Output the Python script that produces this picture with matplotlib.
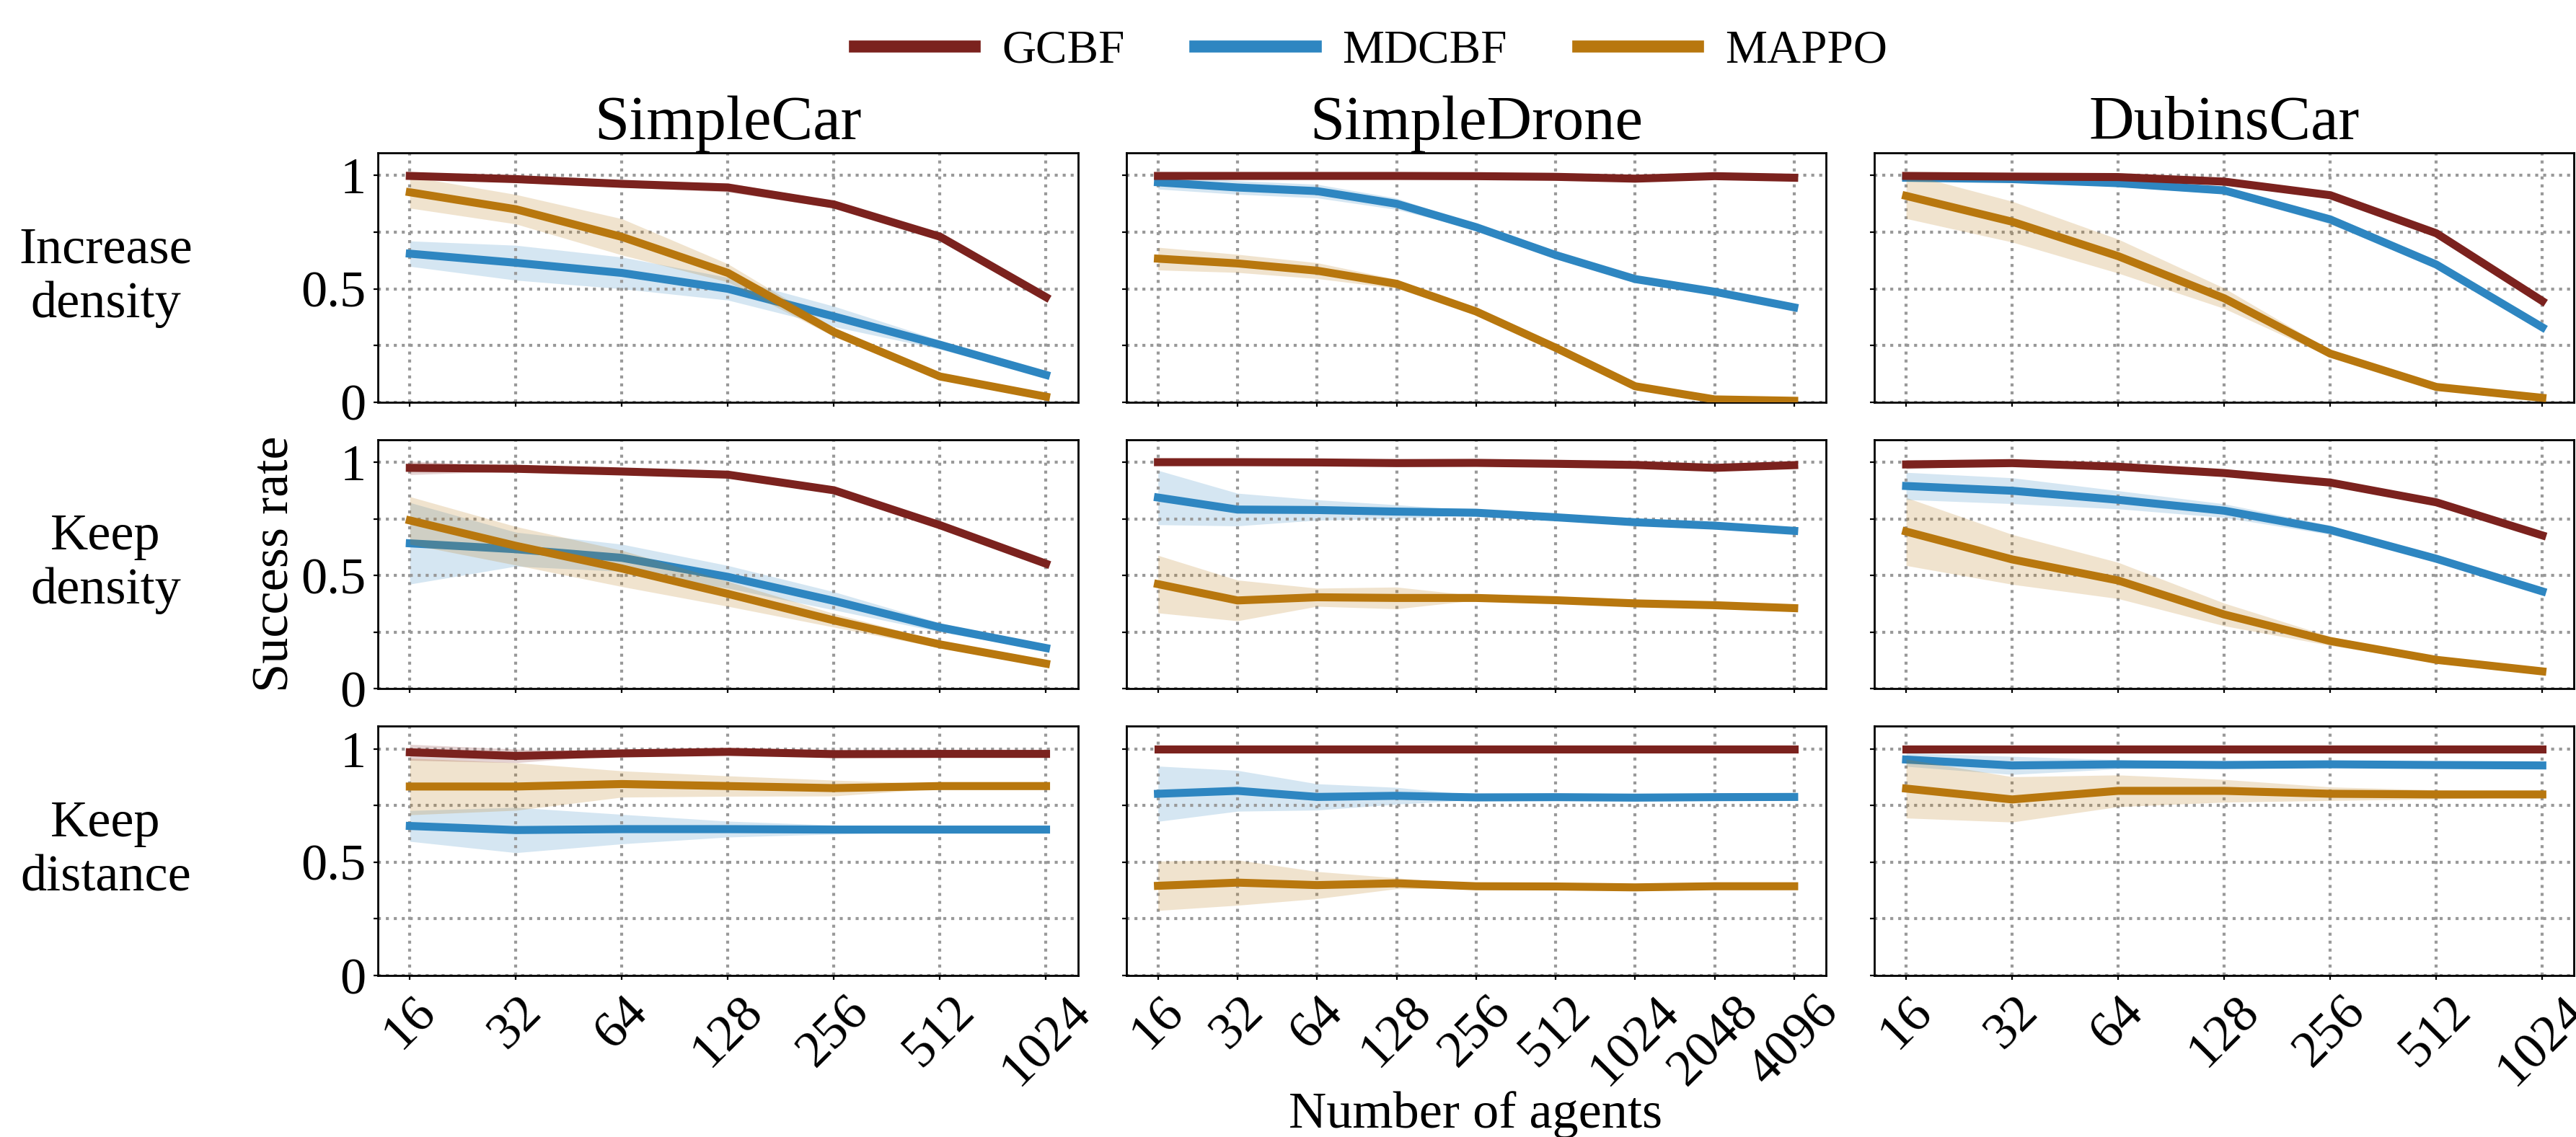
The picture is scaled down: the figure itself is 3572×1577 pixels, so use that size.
import numpy as np
import matplotlib
matplotlib.use('Agg')
import matplotlib.pyplot as plt
from matplotlib.ticker import NullLocator, FixedLocator

plt.rcParams['font.family'] = ['Liberation Serif', 'DejaVu Serif']
plt.rcParams['font.size'] = 26

agents = [16, 32, 64, 128, 256, 512, 1024]
agents_drone = [16, 32, 64, 128, 256, 512, 1024, 2048, 4096]

envs = ['SimpleCar', 'SimpleDrone', 'DubinsCar']
tasks = ['Increase\ndensity', 'Keep\ndensity', 'Keep\ndistance']
methods = ['GCBF', 'MDCBF', 'MAPPO']
colors = ['#7B221E', '#2E86C1', '#B8770E']

# increase density
car_inc_gcbf = [0.998, 0.984, 0.963, 0.947, 0.872, 0.730, 0.463]
car_inc_gcbf_sd = [0.01, 0.015, 0.015, 0.02, 0.015, 0.015, 0.01]
car_inc_mdcbf = [0.655, 0.615, 0.570, 0.500, 0.378, 0.253, 0.120]
car_inc_mdcbf_sd = [0.056, 0.077, 0.07, 0.05, 0.045, 0.02, 0.01]
car_inc_mappo = [0.926, 0.851, 0.729, 0.570, 0.309, 0.113, 0.024]
car_inc_mappo_sd = [0.07, 0.065, 0.08, 0.04, 0.02, 0.01, 0.01]

drone_inc_gcbf = [0.998, 0.998, 0.998, 0.998, 0.997, 0.994, 0.986, 0.997, 0.990]
drone_inc_gcbf_sd = [0.005, 0.005, 0.005, 0.005, 0.005, 0.005, 0.005, 0.005, 0.005]
drone_inc_mdcbf = [0.970, 0.947, 0.931, 0.875, 0.772, 0.649, 0.543, 0.487, 0.418]
drone_inc_mdcbf_sd = [0.03, 0.03, 0.03, 0.025, 0.01, 0.005, 0.005, 0.005, 0.005]
drone_inc_mappo = [0.633, 0.612, 0.580, 0.522, 0.400, 0.240, 0.070, 0.012, 0.006]
drone_inc_mappo_sd = [0.05, 0.04, 0.035, 0.02, 0.01, 0.005, 0.005, 0.003, 0.003]

dubins_inc_gcbf = [0.998, 0.995, 0.993, 0.973, 0.913, 0.745, 0.446]
dubins_inc_gcbf_sd = [0.005, 0.005, 0.005, 0.01, 0.015, 0.015, 0.01]
dubins_inc_mdcbf = [0.990, 0.984, 0.966, 0.934, 0.806, 0.607, 0.330]
dubins_inc_mdcbf_sd = [0.01, 0.01, 0.015, 0.015, 0.02, 0.015, 0.01]
dubins_inc_mappo = [0.910, 0.796, 0.644, 0.458, 0.214, 0.067, 0.019]
dubins_inc_mappo_sd = [0.10, 0.09, 0.075, 0.045, 0.015, 0.005, 0.005]

# keep density
car_den_gcbf = [0.975, 0.971, 0.959, 0.945, 0.876, 0.722, 0.552]
car_den_gcbf_sd = [0.03, 0.01, 0.01, 0.015, 0.01, 0.01, 0.01]
car_den_mdcbf = [0.642, 0.616, 0.578, 0.494, 0.388, 0.271, 0.180]
car_den_mdcbf_sd = [0.18, 0.075, 0.06, 0.05, 0.04, 0.02, 0.01]
car_den_mappo = [0.743, 0.631, 0.531, 0.419, 0.302, 0.196, 0.111]
car_den_mappo_sd = [0.105, 0.085, 0.08, 0.055, 0.03, 0.015, 0.01]

drone_den_gcbf = [1.0, 1.0, 0.999, 0.996, 0.997, 0.993, 0.988, 0.975, 0.987]
drone_den_gcbf_sd = [0.005, 0.005, 0.005, 0.005, 0.005, 0.005, 0.005, 0.01, 0.005]
drone_den_mdcbf = [0.844, 0.791, 0.789, 0.782, 0.777, 0.757, 0.735, 0.720, 0.697]
drone_den_mdcbf_sd = [0.12, 0.072, 0.045, 0.03, 0.01, 0.005, 0.005, 0.005, 0.005]
drone_den_mappo = [0.462, 0.390, 0.404, 0.401, 0.401, 0.391, 0.377, 0.369, 0.356]
drone_den_mappo_sd = [0.127, 0.09, 0.04, 0.048, 0.01, 0.005, 0.005, 0.005, 0.005]

dubins_den_gcbf = [0.990, 0.996, 0.980, 0.952, 0.910, 0.823, 0.677]
dubins_den_gcbf_sd = [0.02, 0.005, 0.005, 0.01, 0.01, 0.015, 0.01]
dubins_den_mdcbf = [0.895, 0.874, 0.834, 0.786, 0.701, 0.574, 0.430]
dubins_den_mdcbf_sd = [0.06, 0.057, 0.04, 0.03, 0.02, 0.01, 0.01]
dubins_den_mappo = [0.694, 0.571, 0.478, 0.328, 0.211, 0.128, 0.077]
dubins_den_mappo_sd = [0.15, 0.11, 0.08, 0.05, 0.02, 0.01, 0.005]

# keep distance
car_dist_gcbf = [0.985, 0.969, 0.980, 0.987, 0.977, 0.978, 0.978]
car_dist_gcbf_sd = [0.035, 0.03, 0.005, 0.005, 0.005, 0.005, 0.005]
car_dist_mdcbf = [0.660, 0.642, 0.646, 0.646, 0.644, 0.644, 0.644]
car_dist_mdcbf_sd = [0.068, 0.1, 0.065, 0.035, 0.02, 0.01, 0.005]
car_dist_mappo = [0.834, 0.834, 0.845, 0.836, 0.827, 0.836, 0.836]
car_dist_mappo_sd = [0.125, 0.105, 0.058, 0.045, 0.035, 0.01, 0.005]

drone_dist_gcbf = [0.999, 0.999, 0.999, 0.999, 0.999, 0.999, 0.999, 0.999, 0.999]
drone_dist_gcbf_sd = [0.005, 0.005, 0.005, 0.005, 0.005, 0.005, 0.005, 0.005, 0.005]
drone_dist_mdcbf = [0.802, 0.815, 0.788, 0.793, 0.786, 0.787, 0.785, 0.787, 0.788]
drone_dist_mdcbf_sd = [0.122, 0.09, 0.058, 0.037, 0.01, 0.005, 0.005, 0.005, 0.005]
drone_dist_mappo = [0.396, 0.410, 0.399, 0.407, 0.394, 0.393, 0.389, 0.394, 0.394]
drone_dist_mappo_sd = [0.109, 0.1, 0.06, 0.024, 0.008, 0.005, 0.005, 0.005, 0.005]

dubins_dist_gcbf = [0.998, 0.998, 0.998, 0.998, 0.998, 0.998, 0.998]
dubins_dist_gcbf_sd = [0.005, 0.005, 0.005, 0.005, 0.005, 0.005, 0.005]
dubins_dist_mdcbf = [0.953, 0.927, 0.932, 0.929, 0.932, 0.929, 0.927]
dubins_dist_mdcbf_sd = [0.03, 0.04, 0.02, 0.01, 0.01, 0.01, 0.01]
dubins_dist_mappo = [0.825, 0.777, 0.815, 0.815, 0.802, 0.799, 0.799]
dubins_dist_mappo_sd = [0.13, 0.10, 0.07, 0.05, 0.03, 0.02, 0.01]

panels = [
    [(car_inc_gcbf, car_inc_gcbf_sd, car_inc_mdcbf, car_inc_mdcbf_sd, car_inc_mappo, car_inc_mappo_sd),
     (drone_inc_gcbf, drone_inc_gcbf_sd, drone_inc_mdcbf, drone_inc_mdcbf_sd, drone_inc_mappo, drone_inc_mappo_sd),
     (dubins_inc_gcbf, dubins_inc_gcbf_sd, dubins_inc_mdcbf, dubins_inc_mdcbf_sd, dubins_inc_mappo, dubins_inc_mappo_sd)],
    [(car_den_gcbf, car_den_gcbf_sd, car_den_mdcbf, car_den_mdcbf_sd, car_den_mappo, car_den_mappo_sd),
     (drone_den_gcbf, drone_den_gcbf_sd, drone_den_mdcbf, drone_den_mdcbf_sd, drone_den_mappo, drone_den_mappo_sd),
     (dubins_den_gcbf, dubins_den_gcbf_sd, dubins_den_mdcbf, dubins_den_mdcbf_sd, dubins_den_mappo, dubins_den_mappo_sd)],
    [(car_dist_gcbf, car_dist_gcbf_sd, car_dist_mdcbf, car_dist_mdcbf_sd, car_dist_mappo, car_dist_mappo_sd),
     (drone_dist_gcbf, drone_dist_gcbf_sd, drone_dist_mdcbf, drone_dist_mdcbf_sd, drone_dist_mappo, drone_dist_mappo_sd),
     (dubins_dist_gcbf, dubins_dist_gcbf_sd, dubins_dist_mdcbf, dubins_dist_mdcbf_sd, dubins_dist_mappo, dubins_dist_mappo_sd)],
]

fig, axes = plt.subplots(3, 3, figsize=(17.865, 7.885), dpi=200)
fig.subplots_adjust(left=0.1467, right=0.999, top=0.8656, bottom=0.142, wspace=0.069, hspace=0.15)

zorders = [4, 2, 3]
for i in range(3):
    for j in range(3):
        ax = axes[i, j]
        x = np.array(agents_drone if j == 1 else agents)
        vals = panels[i][j]
        for k in range(3):
            m = np.array(vals[2 * k])
            s = np.array(vals[2 * k + 1])
            ax.fill_between(x, m - s, m + s, color=colors[k], alpha=0.2, lw=0, zorder=zorders[k] - 0.5)
            ax.plot(x, m, c=colors[k], lw=4.0, label=methods[k], zorder=zorders[k])
        ax.set_xscale('log', base=2)
        ax.xaxis.set_major_locator(FixedLocator(x))
        ax.xaxis.set_minor_locator(NullLocator())
        ax.set_ylim(0, 1.1)
        ax.set_yticks([0, 0.5, 1])
        ax.set_yticks([0.25, 0.75], minor=True)
        ax.grid(True, which='both', axis='y', ls=':', lw=1.5, color='0.6')
        ax.grid(True, which='major', axis='x', ls=':', lw=1.5, color='0.6')
        ax.tick_params(which='both', direction='out', length=2, width=0.8, pad=4)
        for sp in ax.spines.values():
            sp.set_linewidth(1.0)
        if j == 0:
            ax.set_yticklabels(['0', '0.5', '1'])
        else:
            ax.set_yticklabels([])
        if i == 2:
            ax.set_xticklabels([str(v) for v in x], rotation=45, ha='center')
        else:
            ax.set_xticklabels([])
        if i == 0:
            ax.set_title(envs[j], pad=6)

row_centers = [1 - 385 / 1577, 1 - 782 / 1577, 1 - 1180 / 1577]
for i in range(3):
    fig.text(0.041, row_centers[i], tasks[i], ha='center', va='center')

fig.text(0.107, row_centers[1], 'Success rate', rotation=90, ha='center', va='center')
fig.text(0.5726, 0.008, 'Number of agents', ha='center', va='baseline')

handles, labels = axes[0, 0].get_legend_handles_labels()
leg = fig.legend(handles, labels, loc='center', bbox_to_anchor=(0.532, 0.955), ncol=3,
                 frameon=False, fontsize=23.5, handlelength=2.55, handletextpad=0.58, columnspacing=1.5)
for line in leg.get_lines():
    line.set_linewidth(6)

fig.savefig('out.png', dpi=200)
